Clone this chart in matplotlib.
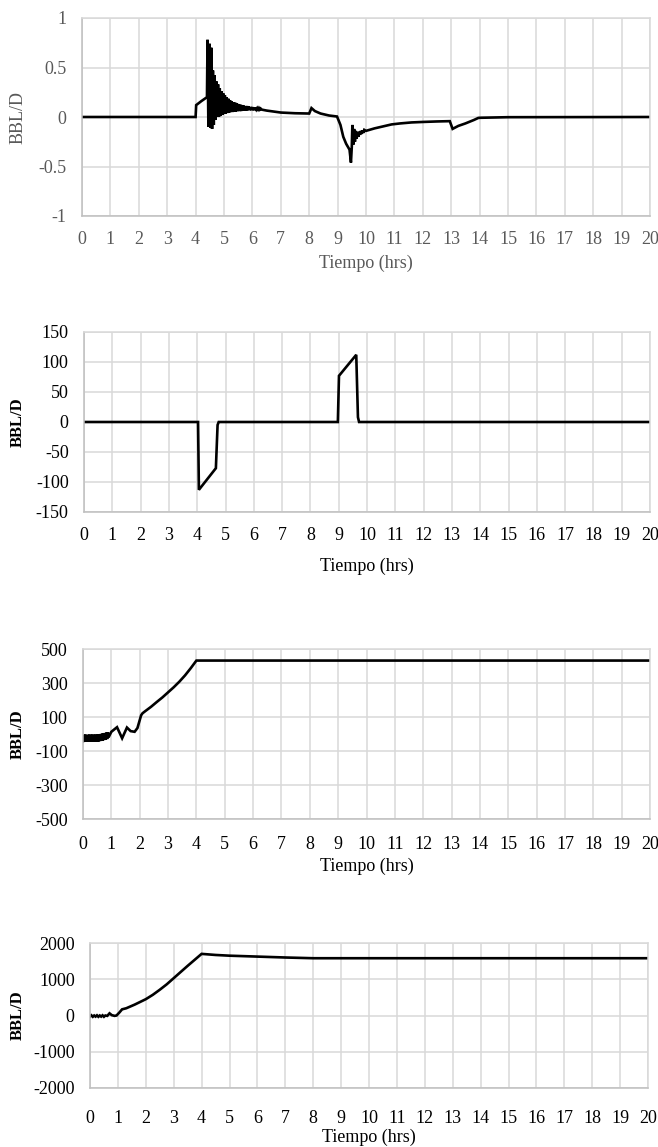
import matplotlib
matplotlib.use("Agg")
import matplotlib.pyplot as plt

plt.rcParams['font.family'] = ['Liberation Serif', 'DejaVu Serif']
plt.rcParams['axes.unicode_minus'] = False

# --- data (time in hrs, rate in BBL/D) ---
hours = list(range(0, 21))

# chart 1
t1 = [0, 4.0, 4.02, 4.2, 4.4,
      4.42, 4.45, 4.49, 4.52, 4.55, 4.58, 4.61, 4.64, 4.67, 4.70, 4.73, 4.76,
      4.79, 4.82, 4.85, 4.88, 4.91, 4.94, 4.97, 5.00, 5.03, 5.06, 5.09, 5.12,
      5.15, 5.18, 5.21, 5.24, 5.27, 5.30, 5.33, 5.36, 5.39, 5.42, 5.45, 5.48,
      5.51, 5.54, 5.57, 5.60, 5.63, 5.66, 5.69, 5.72, 5.75, 5.78, 5.81, 5.84,
      5.87, 5.90, 5.93, 5.96, 5.99, 6.02, 6.05, 6.08, 6.11, 6.14, 6.17, 6.20,
      6.23, 6.26, 6.29, 6.32,
      6.5, 7.0, 7.5, 8.0, 8.08, 8.2, 8.4, 8.7, 8.98,
      9.1, 9.2, 9.3, 9.42, 9.47, 9.5, 9.52, 9.55, 9.58, 9.61, 9.64, 9.67,
      9.70, 9.73, 9.76, 9.79, 9.82, 9.85, 9.88, 9.91, 9.94,
      10.0, 10.3, 10.6, 10.9, 11.2, 11.6, 12.0, 12.5, 12.95,
      13.05, 13.25, 13.5, 13.8, 13.95, 14.0, 14.5, 15.0, 20.0]
q1 = [0, 0, 0.12, 0.16, 0.2,
      0.78, -0.10, 0.74, -0.11, 0.70, -0.12, 0.47, -0.08, 0.42, -0.03, 0.36, 0.0,
      0.33, 0.00, 0.29, 0.01, 0.26, 0.02, 0.24, 0.03, 0.22, 0.035, 0.20, 0.04,
      0.185, 0.045, 0.17, 0.05, 0.16, 0.05, 0.15, 0.055, 0.145, 0.055, 0.14, 0.06,
      0.13, 0.06, 0.125, 0.06, 0.12, 0.065, 0.115, 0.065, 0.11, 0.065, 0.11, 0.07,
      0.105, 0.07, 0.10, 0.07, 0.10, 0.07, 0.095, 0.07, 0.095, 0.075, 0.09, 0.075,
      0.09, 0.075, 0.085, 0.075,
      0.065, 0.045, 0.038, 0.035, 0.09, 0.06, 0.035, 0.015, 0.005,
      -0.08, -0.2, -0.27, -0.33, -0.46, -0.3, -0.08, -0.28, -0.12, -0.25, -0.14, -0.22,
      -0.15, -0.2, -0.15, -0.18, -0.14, -0.17, -0.135, -0.16, -0.13,
      -0.14, -0.115, -0.095, -0.075, -0.065, -0.055, -0.05, -0.045, -0.042,
      -0.12, -0.09, -0.065, -0.03, -0.01, -0.008, -0.005, -0.002, 0.0]

# chart 2
t2 = [0, 4.03, 4.06, 4.66, 4.72, 4.76, 8.97, 9.01, 9.62, 9.68, 9.72, 20]
q2 = [0, 0, -113, -77, -5, 0, 0, 77, 112, 8, 0, 0]

# chart 3
t3 = [0.0, 0.025, 0.05, 0.075, 0.10, 0.125, 0.15, 0.175, 0.20, 0.225, 0.25,
      0.275, 0.30, 0.325, 0.35, 0.375, 0.40, 0.425, 0.45, 0.475, 0.50, 0.525,
      0.55, 0.575, 0.60, 0.625, 0.65, 0.675, 0.70, 0.725, 0.75, 0.775, 0.80,
      0.825, 0.85, 0.875, 0.90,
      1.0, 1.2, 1.38, 1.55, 1.68, 1.82, 1.92, 2.05, 2.1, 2.2, 2.4, 2.6, 2.8,
      3.0, 3.2, 3.4, 3.6, 3.8, 4.0, 20.0]
q3 = [-42, -5, -44, -4, -45, -5, -44, -5, -45, -4, -44, -5, -45, -4, -44,
      -5, -45, -4, -44, -5, -44, -3, -43, -2, -42, 0, -40, 2, -38, 4, -35,
      6, -32, 8, -30, 10, -20,
      13, 40, -25, 38, 17, 13, 35, 110, 122, 135, 160, 188, 215,
      245, 275, 308, 345, 387, 432, 432]

# chart 4
t4 = [0.0, 0.05, 0.10, 0.15, 0.20, 0.25, 0.30, 0.35, 0.40, 0.45, 0.50, 0.55,
      0.62, 0.70, 0.78, 0.88, 0.95, 1.05, 1.15, 1.3, 1.6, 2.0, 2.25, 2.5, 2.75,
      3.0, 3.25, 3.5, 3.75, 4.0, 4.5, 5.0, 6.0, 7.0, 8.0, 20.0]
q4 = [-30, 5, -35, 0, -30, 5, -35, 0, -30, 5, -35, 0,
      -10, 60, 10, -10, 0, 80, 170, 200, 300, 450, 570, 710, 860,
      1030, 1200, 1370, 1535, 1700, 1670, 1650, 1625, 1600, 1580, 1580]

# y axes
yt1 = [-1, -0.5, 0, 0.5, 1]
yl1 = ['-1', '-0.5', '0', '0.5', '1']
yt2 = [-150, -100, -50, 0, 50, 100, 150]
yl2 = ['-150', '-100', '-50', '0', '50', '100', '150']
yt3 = [-500, -300, -100, 100, 300, 500]
yl3 = ['-500', '-300', '-100', '100', '300', '500']
yt4 = [-2000, -1000, 0, 1000, 2000]
yl4 = ['-2000', '-1000', '0', '1000', '2000']

W, H = 658, 1147


def make_axes(fig, left, right, top, bottom):
    return fig.add_axes([left / W, 1 - bottom / H, (right - left) / W, (bottom - top) / H])


def style(ax, t, q, yt, yl, box, tick_y, label_y, txt_col, bold_label):
    left, right, top, bottom = box
    ax.plot(t, q, color='black', linewidth=1.9, solid_joinstyle='miter')
    ax.set_xlim(0, 20)
    ax.set_ylim(yt[0], yt[-1])
    ax.set_xticks(hours)
    ax.set_xticklabels([str(h) for h in hours])
    ax.set_yticks(yt)
    ax.set_yticklabels(yl)
    ax.grid(True, color='#d9d9d9', linewidth=1.1)
    ax.set_axisbelow(True)
    for s in ax.spines.values():
        s.set_color('#d9d9d9')
        s.set_linewidth(1.1)
    ax.spines['left'].set_color('#bfbfbf')
    ax.spines['bottom'].set_color('#bfbfbf')
    xpad = (tick_y - bottom - 7) / 1.389
    ax.tick_params(axis='x', length=0, pad=xpad, labelsize=13, colors=txt_col)
    ax.tick_params(axis='y', length=0, pad=11, labelsize=13, colors=txt_col)

    ax.set_xlabel('Tiempo (hrs)', fontsize=13, color=txt_col)
    ax.xaxis.set_label_coords(0.5, (bottom - label_y) / (bottom - top))
    ax.xaxis.label.set_va('center')
    if bold_label:
        ax.set_ylabel('BBL/D', fontsize=12, fontweight='bold', color=txt_col)
    else:
        ax.set_ylabel('BBL/D', fontsize=13, color=txt_col)
    ax.yaxis.set_label_coords((18 - left) / (right - left), 0.5)
    ax.yaxis.label.set_va('center')


fig = plt.figure(figsize=(W / 100, H / 100), dpi=100)

boxes = [(82, 650, 18, 216), (84, 650, 332, 512), (83, 650, 649, 819), (90, 648, 943, 1088)]
tick_rows = [238, 534, 843, 1117]
label_rows = [263, 566, 866, 1137]

ax1 = make_axes(fig, *boxes[0])
style(ax1, t1, q1, yt1, yl1, boxes[0], tick_rows[0], label_rows[0], '#595959', False)

ax2 = make_axes(fig, *boxes[1])
style(ax2, t2, q2, yt2, yl2, boxes[1], tick_rows[1], label_rows[1], 'black', True)

ax3 = make_axes(fig, *boxes[2])
style(ax3, t3, q3, yt3, yl3, boxes[2], tick_rows[2], label_rows[2], 'black', True)

ax4 = make_axes(fig, *boxes[3])
style(ax4, t4, q4, yt4, yl4, boxes[3], tick_rows[3], label_rows[3], 'black', True)

fig.savefig('out.png', dpi=100)
